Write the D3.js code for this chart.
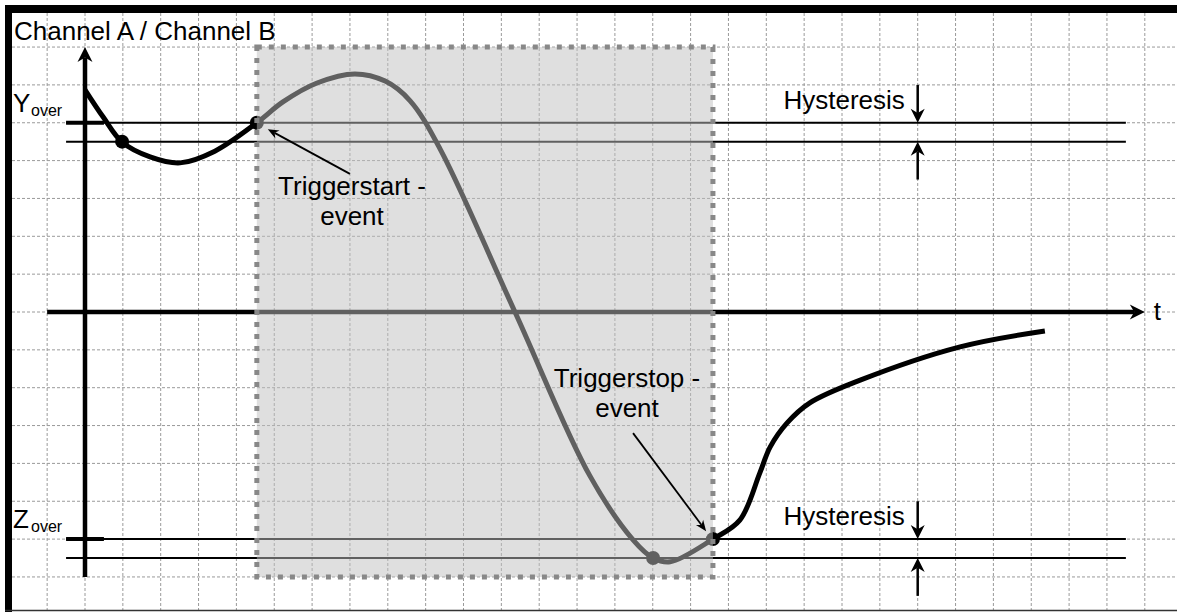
<!DOCTYPE html>
<html>
<head>
<meta charset="utf-8">
<script src="https://cdn.jsdelivr.net/npm/d3@7"></script>
<style>
  html, body { margin: 0; padding: 0; background: #fff; }
  svg { display: block; }
  text { font-family: "Liberation Sans", Arial, sans-serif; fill: #000; }
</style>
</head>
<body>
<script>
'use strict'

// signal in grid units: t = time, v = level (0 on the t axis)
var signalT = [0, 0.48, 0.98, 1.72, 2.51, 3.43, 4.54, 5.23, 6.13, 7.13, 7.93, 8.59, 9.38, 11.36, 13.34,
               14.48, 15.01, 15.46, 16.59, 17.3, 17.83, 18.1, 18.55, 19.15, 20.48, 23.12, 25.36]
var signalV = [5.87, 5.15, 4.49, 4.1, 3.94, 4.25, 5.0, 5.55, 6.05, 6.29, 6.1, 5.58, 4.31, 0, -4.33,
               -6.02, -6.5, -6.6, -6.0, -5.5, -4.25, -3.57, -2.93, -2.4, -1.8, -0.92, -0.5]
// crossing events (dots)
var eventT = [0.98, 4.54, 15.01, 16.59]
var eventV = [4.5, 5.0, -6.5, -6.0]
// thresholds with hysteresis
var levelNames = ['Y', 'Z']
var levelHigh = [5.0, -6.0]
var levelLow = [4.5, -6.5]
// trigger window
var windowT = [4.54, 16.59]
var windowV = [-7, 7]

var W = 1177, H = 612, g = 37.85
var x = d3.scaleLinear().domain([0, 28]).range([85, 85 + 28 * g])
var y = d3.scaleLinear().domain([-7, 7]).range([312 + 7 * g, 312 - 7 * g])

var svg = d3.select('body').append('svg').attr('width', W).attr('height', H)

// grid
var gridT = d3.range(-2, 29), gridV = d3.range(-7, 9)
svg.append('g').selectAll('line').data(gridT).enter().append('line')
  .attr('x1', function(d){ return x(d) }).attr('x2', function(d){ return x(d) })
  .attr('y1', 13).attr('y2', 610)
  .attr('stroke', '#9a9a9a').attr('stroke-width', 1).attr('stroke-dasharray', '3,2')
svg.append('g').selectAll('line').data(gridV).enter().append('line')
  .attr('y1', function(d){ return y(d) }).attr('y2', function(d){ return y(d) })
  .attr('x1', 12).attr('x2', W)
  .attr('stroke', '#9a9a9a').attr('stroke-width', 1).attr('stroke-dasharray', '3,2')

// arrow head helper
function head(px, py, ang, len, wid){
  var c = Math.cos(ang), s = Math.sin(ang)
  var pts = [[0, 0], [-len, -wid / 2], [-len * 0.7, 0], [-len, wid / 2]]
  return 'M' + pts.map(function(p){
    return [px + p[0] * c - p[1] * s, py + p[0] * s + p[1] * c].join(',')
  }).join('L') + 'Z'
}
function arrow(parent, x1, y1, x2, y2, sw, len, wid){
  var ang = Math.atan2(y2 - y1, x2 - x1)
  parent.append('line').attr('x1', x1).attr('y1', y1)
    .attr('x2', x2 - Math.cos(ang) * len * 0.7).attr('y2', y2 - Math.sin(ang) * len * 0.7)
    .attr('stroke', '#000').attr('stroke-width', sw)
  parent.append('path').attr('d', head(x2, y2, ang, len, wid)).attr('fill', '#000')
}

// threshold lines
var lv = svg.append('g')
levelHigh.forEach(function(v, i){
  lv.append('line').attr('x1', x(-0.5)).attr('x2', x(27.5)).attr('y1', y(v)).attr('y2', y(v))
    .attr('stroke', '#000').attr('stroke-width', 2)
  lv.append('line').attr('x1', x(-0.5)).attr('x2', x(27.5)).attr('y1', y(levelLow[i])).attr('y2', y(levelLow[i]))
    .attr('stroke', '#000').attr('stroke-width', 2)
  lv.append('line').attr('x1', x(-0.5)).attr('x2', x(0.5)).attr('y1', y(v)).attr('y2', y(v))
    .attr('stroke', '#000').attr('stroke-width', 4)
})

// axes
var ax = svg.append('g')
arrow(ax, x(0), y(-7), x(0), y(7), 4.5, 15, 15)
arrow(ax, x(-1), y(0), x(28), y(0), 4.5, 15, 15)

// signal
var line = d3.line().curve(d3.curveCatmullRom.alpha(0.5))
  .x(function(d){ return x(d[0]) }).y(function(d){ return y(d[1]) })
svg.append('path').datum(d3.zip(signalT, signalV)).attr('d', line)
  .attr('fill', 'none').attr('stroke', '#000').attr('stroke-width', 5).attr('stroke-linecap', 'butt')
svg.append('g').selectAll('circle').data(d3.zip(eventT, eventV)).enter().append('circle')
  .attr('cx', function(d){ return x(d[0]) }).attr('cy', function(d){ return y(d[1]) })
  .attr('r', 7).attr('fill', '#000')

// trigger window overlay
svg.append('rect')
  .attr('x', x(windowT[0])).attr('y', y(windowV[1]))
  .attr('width', x(windowT[1]) - x(windowT[0])).attr('height', y(windowV[0]) - y(windowV[1]))
  .attr('fill', 'rgb(192,192,192)').attr('fill-opacity', 0.5)
  .attr('stroke', '#888').attr('stroke-width', 5).attr('stroke-dasharray', '5,7')

// hysteresis markers
var hy = svg.append('g')
levelHigh.forEach(function(v, i){
  arrow(hy, x(22), y(v + 1), x(22), y(v), 2.5, 14, 14)
  arrow(hy, x(22), y(levelLow[i] - 1), x(22), y(levelLow[i]), 2.5, 14, 14)
  hy.append('text').attr('x', x(21.66)).attr('y', y(v) - 14)
    .attr('text-anchor', 'end').attr('font-size', 26).text('Hysteresis')
})

// labels
svg.append('text').attr('x', 14).attr('y', 40).attr('font-size', 26).text('Channel A / Channel B')
svg.append('text').attr('x', x(28) + 9).attr('y', y(0) + 8).attr('font-size', 26).text('t')
levelNames.forEach(function(n, i){
  var yy = y(levelHigh[i]) - 11
  svg.append('text').attr('x', 13).attr('y', yy).attr('font-size', 26).text(n)
  svg.append('text').attr('x', 31).attr('y', yy + 4).attr('font-size', 16).text('over')
})

// event annotations
var an = svg.append('g')
arrow(an, x(7.0), y(3.65), x(4.83), y(4.83), 1.8, 11, 9)
arrow(an, x(14.48), y(-3.2), x(16.41), y(-5.79), 1.8, 11, 9)
an.append('text').attr('x', 352).attr('y', 195).attr('text-anchor', 'middle').attr('font-size', 26).text('Triggerstart -')
an.append('text').attr('x', 352).attr('y', 225).attr('text-anchor', 'middle').attr('font-size', 26).text('event')
an.append('text').attr('x', 627).attr('y', 387).attr('text-anchor', 'middle').attr('font-size', 26).text('Triggerstop -')
an.append('text').attr('x', 627).attr('y', 417).attr('text-anchor', 'middle').attr('font-size', 26).text('event')

// frame
svg.append('rect').attr('x', 5).attr('y', 5).attr('width', W - 5).attr('height', 8).attr('fill', '#000')
svg.append('rect').attr('x', 5).attr('y', 5).attr('width', 7).attr('height', H - 5).attr('fill', '#000')
svg.append('line').attr('x1', 5).attr('x2', W).attr('y1', 610.5).attr('y2', 610.5)
  .attr('stroke', '#333').attr('stroke-width', 1.5)
</script>
</body>
</html>
